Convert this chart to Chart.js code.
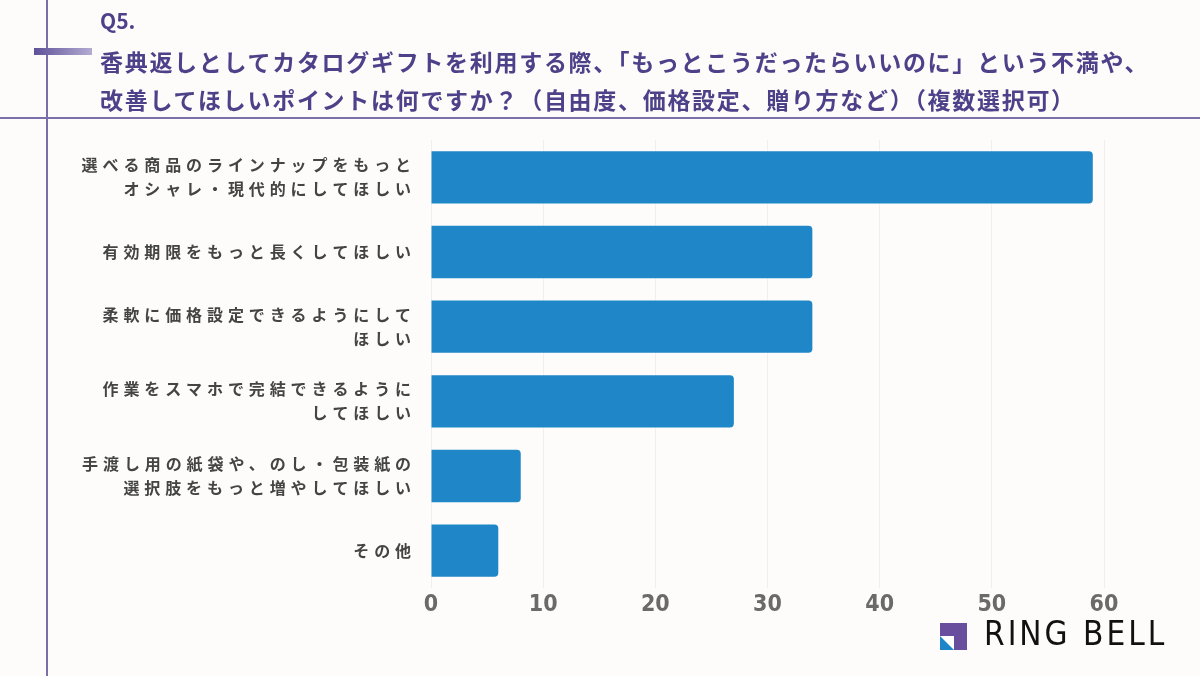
<!DOCTYPE html>
<html lang="ja">
<head>
<meta charset="utf-8">
<script src="https://cdn.jsdelivr.net/npm/chart.js@4.4.1/dist/chart.umd.min.js"></script>
<style>
  html,body{margin:0;padding:0;}
  body{width:1200px;height:676px;position:relative;overflow:hidden;background:#fdfcfa;font-family:"Noto Sans CJK JP",sans-serif;}
  #vline{position:absolute;left:46px;top:0;width:2px;height:676px;background:#7a6fa8;}
  #hline{position:absolute;left:0;top:117px;width:1200px;height:2px;background:#7a6fa8;}
  #gbar{position:absolute;left:34px;top:48px;width:58px;height:7px;background:linear-gradient(to right,#5e5299,#b4acd2);}
  #q{position:absolute;left:100px;top:5px;font:bold 21px "Noto Sans CJK JP";color:#4d4189;}
  #title{position:absolute;left:100px;top:42px;font:bold 23px/38px "Noto Sans CJK JP";color:#4d4189;letter-spacing:1.7px;white-space:nowrap;}
  #wrap{position:absolute;left:0;top:0;width:1200px;height:676px;}
  #logo{position:absolute;left:940px;top:623px;width:27px;height:27px;background:#6a4e9e;}
  #logo .w{position:absolute;left:0;bottom:0;width:14px;height:14px;background:#fff;}
  #logo .t{position:absolute;left:0;bottom:0;width:0;height:0;border-left:14px solid #1e86c8;border-top:14px solid transparent;}
  #brand{position:absolute;left:984px;top:614px;font:normal 33px "DejaVu Sans Condensed","Liberation Sans Narrow",sans-serif;font-stretch:condensed;color:#111;letter-spacing:3px;}
</style>
</head>
<body>
<div id="wrap"><canvas id="c" width="1200" height="676"></canvas></div>
<div id="vline"></div>
<div id="hline"></div>
<div id="gbar"></div>
<div id="q">Q5.</div>
<div id="title">香典返しとしてカタログギフトを利用する際、「もっとこうだったらいいのに」という不満や、<br>改善してほしいポイントは何ですか？（自由度、価格設定、贈り方など）（複数選択可）</div>
<div id="logo"><div class="w"></div><div class="t"></div></div>
<div id="brand">RING BELL</div>
<script>
const categories = [
  ["選べる商品のラインナップをもっと", "オシャレ・現代的にしてほしい"],
  ["有効期限をもっと長くしてほしい"],
  ["柔軟に価格設定できるようにして", "ほしい"],
  ["作業をスマホで完結できるように", "してほしい"],
  ["手渡し用の紙袋や、のし・包装紙の", "選択肢をもっと増やしてほしい"],
  ["その他"]
];
const values = [59, 34, 34, 27, 8, 6];
const xTicks = [0, 10, 20, 30, 40, 50, 60];

const spacingPlugin = {
  id: 'ySpacing',
  beforeDraw(chart) {
    const y = chart.scales.y;
    if (y && !y._spPatched) {
      const orig = y.drawLabels;
      y.drawLabels = function(area) {
        this.ctx.save();
        this.ctx.letterSpacing = '4.9px';
        orig.call(this, area);
        this.ctx.restore();
      };
      y._spPatched = true;
    }
    const x = chart.scales.x;
    if (x && !x._spPatched) {
      const origx = x.drawLabels;
      x.drawLabels = function(area) {
        this.ctx.save();
        try { this.ctx.fontStretch = 'condensed'; } catch (e) {}
        origx.call(this, area);
        this.ctx.restore();
      };
      x._spPatched = true;
    }
  }
};

new Chart(document.getElementById('c'), {
  type: 'bar',
  data: {
    labels: categories,
    datasets: [{
      data: values,
      backgroundColor: '#1f86c8',
      borderRadius: 4,
      barPercentage: 0.7,
      categoryPercentage: 1.0
    }]
  },
  options: {
    indexAxis: 'y',
    responsive: false,
    animation: false,
    layout: { padding: { left: 0, top: 140, right: 96, bottom: 48 } },
    plugins: { legend: { display: false }, tooltip: { enabled: false } },
    scales: {
      x: {
        min: 0, max: 60,
        afterBuildTicks(scale) { scale.ticks = xTicks.map(v => ({ value: v })); },
        afterFit(scale) { scale.height = 40; },
        grid: { color: 'rgba(0,0,0,0.05)', drawTicks: false },
        border: { display: false },
        ticks: {
          padding: 3,
          color: '#6a6a6a',
          font: { family: '"DejaVu Sans Condensed","Liberation Sans Narrow","Roboto",sans-serif', size: 23, weight: 'bold' }
        }
      },
      y: {
        afterFit(scale) { scale.width = 431; },
        grid: { display: false, drawTicks: false },
        border: { display: false },
        ticks: {
          padding: 15,
          color: '#444444',
          font: { family: '"Noto Sans CJK JP"', size: 16, weight: 'bold', lineHeight: 1.5 }
        }
      }
    }
  },
  plugins: [spacingPlugin]
});
</script>
</body>
</html>
